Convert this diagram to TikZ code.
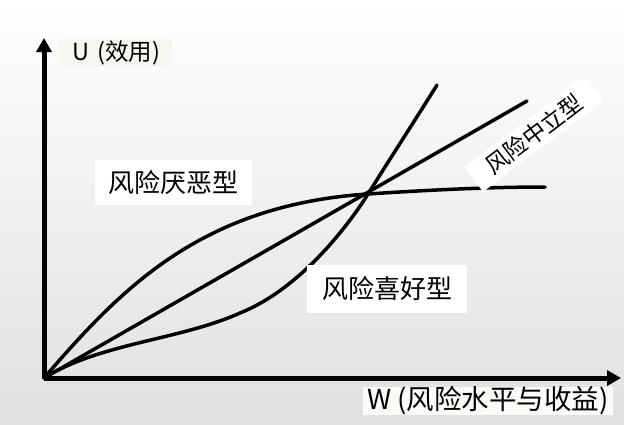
\documentclass[tikz,border=0pt]{standalone}
\usepackage{fontspec}
\setmainfont{Noto Sans CJK SC}
\usetikzlibrary{arrows.meta, positioning}
\tikzstyle{axis}=[line width=5pt, -{Triangle[length=14pt,width=15pt]}]
\tikzstyle{curve}=[line width=3.5pt, line cap=round]
\tikzstyle{tag}=[fill=white, inner ysep=0pt, inner xsep=0pt]

\begin{document}
\begin{tikzpicture}[x=1pt, y=-1pt]
  \shade[top color=white, middle color=gray!4, bottom color=gray!24] (0,0) rectangle (624,424);
  \useasboundingbox (0,0) rectangle (624,424);
  \coordinate (o) at (44,378);
  \coordinate (ytop) at (44,38);
  \coordinate (xend) at (621,378);
  \coordinate (p) at (368,194);
  \coordinate (q) at (240,313);
  \coordinate (averse) at (545,187);
  \coordinate (neutral) at (527,101);
  \coordinate (seeking) at (437,85);
  \draw[axis] (o) -- (ytop);
  \draw[axis] (o) -- (xend);
  \draw[curve] (o) .. controls (120,290) and (200,205) .. (p)
    .. controls (428,190) and (490,187) .. (averse);
  \draw[curve] (o) -- (neutral);
  \draw[curve] (o) .. controls (100,343) and (180,340) .. (q)
    .. controls (300,289) and (348,226) .. (p)
    .. controls (393,154) and (412,125) .. (seeking);
  \node[tag, fill={rgb,255:red,248;green,247;blue,239}, inner xsep=12pt, text width=89pt,
    align=right, minimum height=28pt, font=\fontsize{23.5}{26}\selectfont] (u) at (115.5,53) {U (效用)};
  \node[tag, fill={rgb,255:red,250;green,250;blue,246}, minimum width=250pt, minimum height=28pt,
    font=\fontsize{27.5}{30}\selectfont] (w) at (488,401) {W (风险水平与收益)};
  \node[tag, minimum width=157pt, minimum height=45pt,
    font=\fontsize{26}{30}\selectfont] (a) at (173.5,182.5) {风险厌恶型};
  \node[tag, minimum width=160pt, minimum height=48pt,
    font=\fontsize{26}{30}\selectfont] (s) at (387,289) {风险喜好型};
  \node[tag, rotate=37, minimum width=151pt, minimum height=31pt,
    font=\fontsize{23}{27}\selectfont] (n) at (534,134) {风险中立型};
\end{tikzpicture}
\end{document}
